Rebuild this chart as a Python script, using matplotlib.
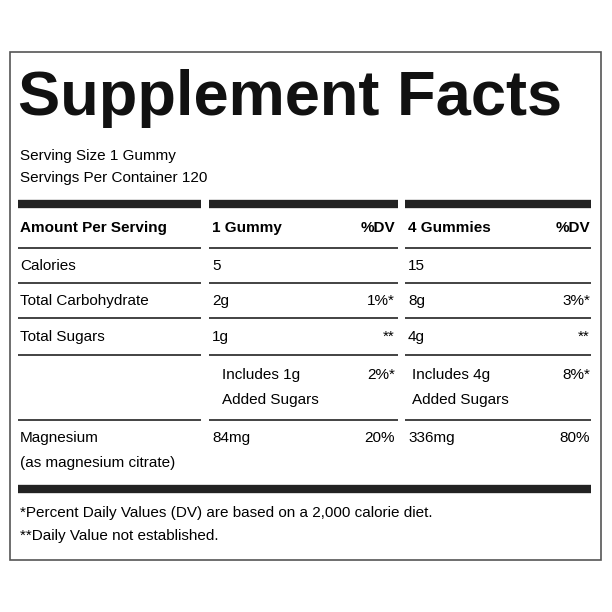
import matplotlib
matplotlib.use("Agg")
import matplotlib.pyplot as plt

plt.rcParams['font.family'] = ['Liberation Sans', 'DejaVu Sans']

title = "Supplement Facts"
serving = ["Serving Size 1 Gummy", "Servings Per Container 120"]
header = ["Amount Per Serving", "1 Gummy", "%DV", "4 Gummies", "%DV"]
rows = [
    (["Calories"], ["5"], [""], ["15"], [""]),
    (["Total Carbohydrate"], ["2g"], ["1%*"], ["8g"], ["3%*"]),
    (["Total Sugars"], ["1g"], ["**"], ["4g"], ["**"]),
    ([""], ["Includes 1g", "Added Sugars"], ["2%*"], ["Includes 4g", "Added Sugars"], ["8%*"]),
    (["Magnesium", "(as magnesium citrate)"], ["84mg"], ["20%"], ["336mg"], ["80%"]),
]
footnotes = ["*Percent Daily Values (DV) are based on a 2,000 calorie diet.",
             "**Daily Value not established."]

fig = plt.figure(figsize=(6.12, 6.12), dpi=100)
ax = fig.add_axes([0, 0, 1, 1])
ax.set_xlim(0, 612); ax.set_ylim(612, 0); ax.axis('off')

ax.add_patch(plt.Rectangle((10, 52), 591, 508, fill=False, lw=1.2, ec='#555555'))
ax.text(18, 98, title, fontsize=45.5, fontweight='bold', va='center', ha='left', color='#111111')
fs = 11
ax.text(20, 156, serving[0], fontsize=fs, va='center')
ax.text(20, 178, serving[1], fontsize=fs, va='center')

segs = [(18, 201), (209, 398), (405, 591)]
def hline(y, lw):
    for a, b in segs:
        ax.plot([a, b], [y, y], color='#222222', lw=lw, solid_capstyle='butt')

hline(204, 6)
ax.text(20, 228, header[0], fontsize=fs, fontweight='bold', va='center')
ax.text(212, 228, header[1], fontsize=fs, fontweight='bold', va='center')
ax.text(395, 228, header[2], fontsize=fs, fontweight='bold', va='center', ha='right')
ax.text(408, 228, header[3], fontsize=fs, fontweight='bold', va='center')
ax.text(590, 228, header[4], fontsize=fs, fontweight='bold', va='center', ha='right')
hline(248, 1.2)

row_y = [266, 301, 337, 375, 438]
line_y = [283, 318, 355, 420, None]
for (lab, v1, d1, v2, d2), y, ly in zip(rows, row_y, line_y):
    for i, t in enumerate(lab):
        ax.text(20, y + 25 * i, t, fontsize=fs, va='center')
    xo = 222 if len(v1) > 1 else 212
    for i, t in enumerate(v1):
        ax.text(xo, y + 25 * i, t, fontsize=fs, va='center')
    for i, t in enumerate(v2):
        ax.text(412 if len(v2) > 1 else 408, y + 25 * i, t, fontsize=fs, va='center')
    ax.text(395, y, d1[0], fontsize=fs, va='center', ha='right')
    ax.text(590, y, d2[0], fontsize=fs, va='center', ha='right')
    if ly:
        hline(ly, 1.2)

ax.plot([18, 591], [489, 489], color='#222222', lw=6, solid_capstyle='butt')
ax.text(20, 513, footnotes[0], fontsize=fs, va='center')
ax.text(20, 536, footnotes[1], fontsize=fs, va='center')

fig.savefig("out.png", dpi=100, facecolor='white')
